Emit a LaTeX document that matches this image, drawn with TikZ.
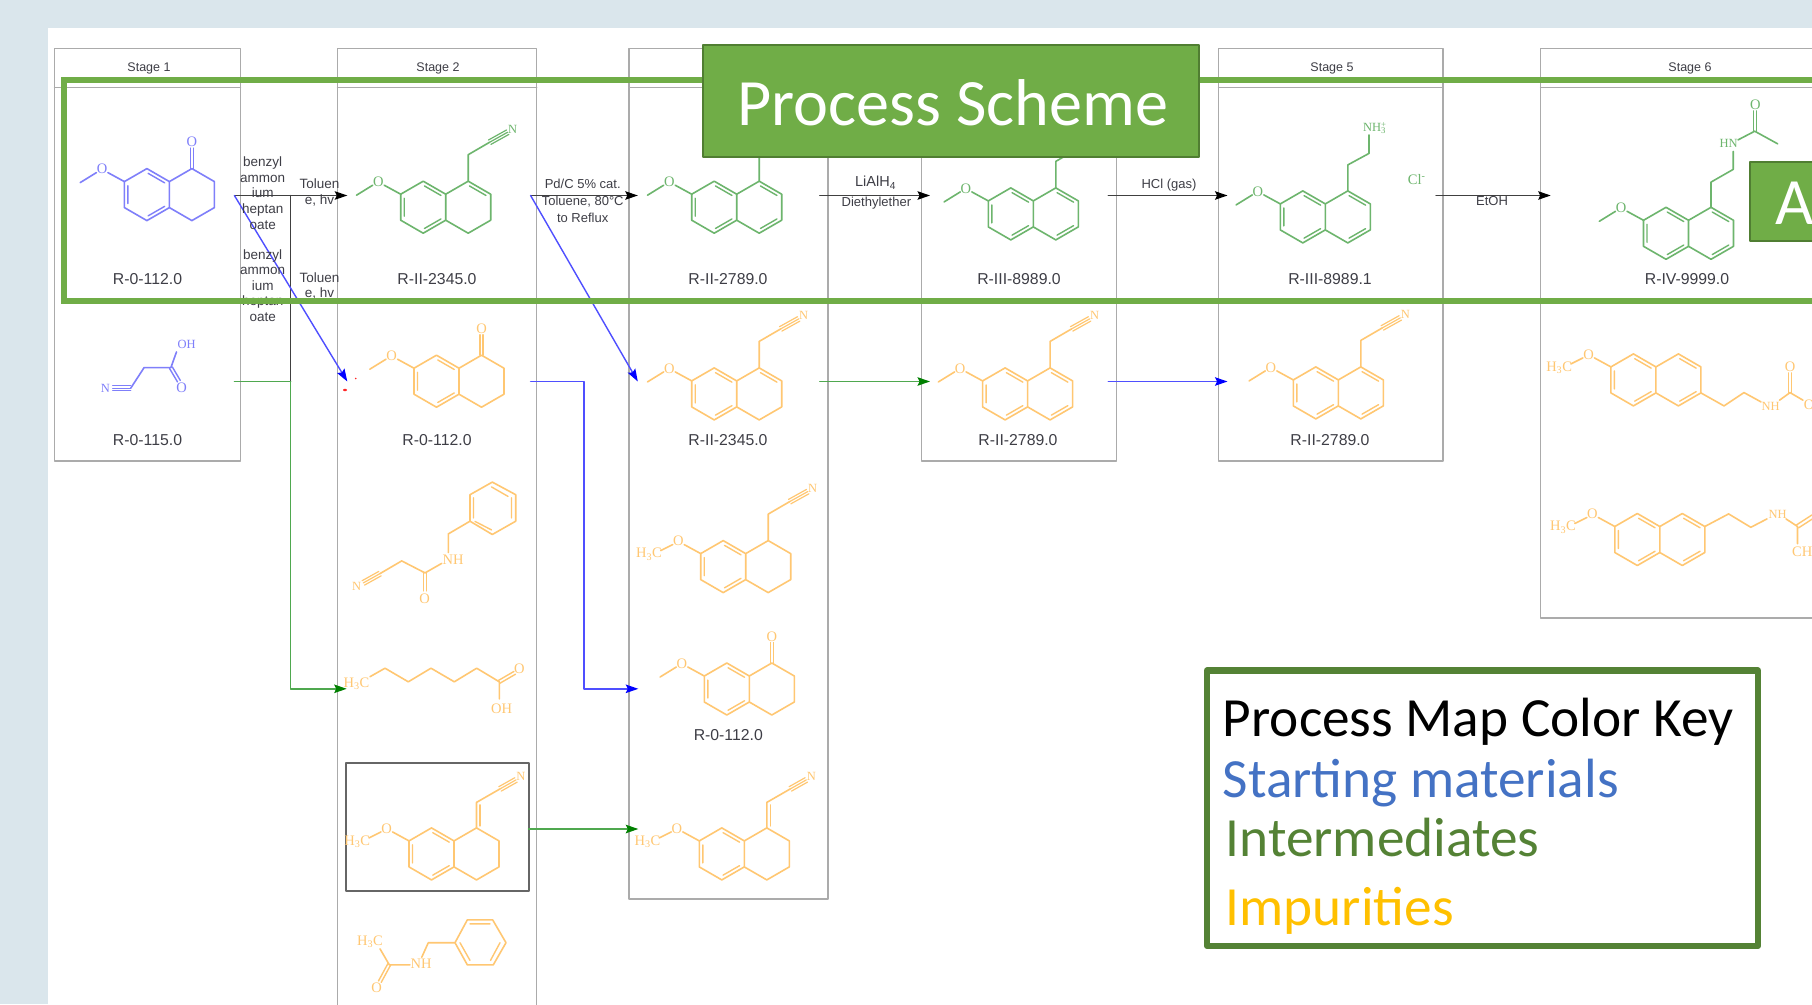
\documentclass[tikz,border=0pt]{standalone}
\usepackage{fontspec}
\setmainfont{Liberation Sans}
\newfontfamily\calfont{Carlito}
\newfontfamily\atomfont{Liberation Serif}
\usetikzlibrary{arrows.meta}
\definecolor{bgblue}{HTML}{DAE6EC}
\definecolor{boxgray}{HTML}{ABABAB}
\definecolor{molblue}{HTML}{7F7FFA}
\definecolor{molgreen}{HTML}{6DB56D}
\definecolor{molorange}{HTML}{FFC772}
\definecolor{pgreen}{HTML}{70AD47}
\definecolor{pgreendark}{HTML}{507E32}
\definecolor{keygreen}{HTML}{548235}
\definecolor{keyblue}{HTML}{4472C4}
\definecolor{keyorange}{HTML}{FFC000}
\definecolor{lineblue}{HTML}{4F4FFF}
\definecolor{linegreen}{HTML}{4FA84F}
\definecolor{textgray}{HTML}{3E3E46}
\tikzset{
  molb/.style={color=molblue},
  molg/.style={color=molgreen},
  molo/.style={color=molorange},
  atom/.style={inner sep=0pt,font=\atomfont\fontsize{14.5}{15}\selectfont},
  smallatom/.style={inner sep=0pt,font=\atomfont\fontsize{12.5}{13}\selectfont},
  stagebox/.style={draw=boxgray,line width=1.5pt,outer sep=0pt,inner sep=0pt,anchor=north west},
  solidbox/.style={fill=pgreen,draw=pgreendark,line width=2pt,outer sep=0pt,inner sep=0pt,anchor=north west},
  stagetext/.style={inner sep=0pt,text=textgray,font=\fontsize{12.5}{14}\selectfont},
  idtext/.style={inner sep=0pt,text=textgray,font=\fontsize{15.8}{18}\selectfont},
  rxtext/.style={inner sep=0pt,align=center,text=textgray,font=\fontsize{13.5}{15.6}\selectfont},
  rxsmall/.style={inner sep=0pt,align=center,text=textgray,font=\fontsize{13}{16.8}\selectfont},
  tipblack/.style={-{Stealth[length=12.5pt,width=8.5pt,inset=2pt,color=black]}},
  conblack/.style={draw=black!75,line width=1.3pt,tipblack},
  conblue/.style={draw=lineblue,line width=1.4pt,-{Stealth[length=12.5pt,width=8.5pt,inset=2pt,color=blue]}},
  congreen/.style={draw=linegreen,line width=1.4pt,-{Stealth[length=12.5pt,width=8.5pt,inset=2pt,color=green!50!black]}},
  keytext/.style={inner sep=0pt,anchor=base west,font=\calfont\fontsize{55.3}{60}\selectfont},
  bigtext/.style={inner sep=0pt,anchor=base west,text=white,font=\calfont\fontsize{66.2}{70}\selectfont},
  bicyc/.pic={
    \draw[line width=1.6pt] (-45,0)--(-22.5,-13)--(0,0)--(22.5,-13)--(45,0)--(45,26)--(22.5,39)--(0,26)--(-22.5,39)--(-45,26)--cycle (0,0)--(0,26);
    \draw[line width=1.4pt] (-41.5,4)--(-41.5,22) (-21.25,-8.25)--(-4.75,1.25) (-21.25,34.25)--(-4.75,24.75);
  },
  renea/.pic={\draw[line width=1.4pt] (23.75,-8.25)--(40.25,1.25);},
  reneb/.pic={\draw[line width=1.4pt] (40.25,24.75)--(23.75,34.25);},
  meo/.pic={
    \draw[line width=1.6pt] (-89.2,1)--(-73,-9) (-61.5,-9)--(-45,0);
    \node[atom] at (-67.4,-12.4) {O};
  },
  hmeo/.pic={
    \draw[line width=1.6pt] (-85,-3)--(-73,-9) (-61.5,-9)--(-45,0);
    \node[atom] at (-67.4,-12.4) {O};
    \node[atom] at (-96.8,0.7) {H\textsubscript{3}C};
  },
  ketone/.pic={
    \draw[line width=1.4pt] (21,-13)--(21,-33.5) (24,-13)--(24,-33.5);
    \node[atom] at (22.5,-39.5) {O};
  },
  cnchain/.pic={
    \draw[line width=1.6pt] (22.5,-13)--(22.5,-39.5)--(44,-52);
    \draw[line width=1.2pt] (44,-52)--(62,-62) (42.8,-54.2)--(60.8,-64.2) (45.2,-49.8)--(63.2,-59.8);
    \node[smallatom] at (67,-65) {N};
  },
  exochain/.pic={
    \draw[line width=1.6pt] (22.5,-13)--(22.5,-38.5)--(46,-52);
    \draw[line width=1.4pt] (26,-15)--(26,-36);
    \draw[line width=1.2pt] (46,-52)--(62,-61) (44.8,-54.2)--(60.8,-63.2) (47.2,-49.8)--(63.2,-58.8);
    \node[smallatom] at (67,-64.5) {N};
  },
  tetralone/.pic={\pic{bicyc};\pic{meo};\pic{ketone};},
  dihydrocn/.pic={\pic{bicyc};\pic{renea};\pic{meo};\pic{cnchain};},
  naphcn/.pic={\pic{bicyc};\pic{renea};\pic{reneb};\pic{meo};\pic{cnchain};}
}
\begin{document}
\begin{tikzpicture}[x=1pt,y=-1pt,line cap=round,line join=round]
\useasboundingbox (0,0) rectangle (1812,1004);
\clip (0,0) rectangle (1812,1004);
\fill[bgblue] (0,0) rectangle (1812,1004);
\fill[white] (47.5,27.7) rectangle (1812,1004);

% stage boxes
\node[stagebox,minimum width=186pt,minimum height=412.7pt] (st1) at (54.5,48.3) {};
\node[stagebox,minimum width=199pt,minimum height=1000pt] (st2) at (337.7,48.3) {};
\node[stagebox,minimum width=199pt,minimum height=850.7pt] (st3) at (628.8,48.3) {};
\node[stagebox,minimum width=195pt,minimum height=412.7pt] (st4) at (921.6,48.3) {};
\node[stagebox,minimum width=224.3pt,minimum height=412.7pt] (st5) at (1218.5,48.3) {};
\node[stagebox,minimum width=400pt,minimum height=569.7pt] (st6) at (1540.7,48.3) {};
\draw[boxgray,line width=1.5pt] (st1.west |- 0,87.3) -- (st1.east |- 0,87.3)
  (st2.west |- 0,87.3) -- (st2.east |- 0,87.3)
  (st3.west |- 0,87.3) -- (st3.east |- 0,87.3)
  (st4.west |- 0,87.3) -- (st4.east |- 0,87.3)
  (st5.west |- 0,87.3) -- (st5.east |- 0,87.3)
  (st6.west |- 0,87.3) -- (st6.east |- 0,87.3);
\node[stagetext] (s1t) at (149,68.7) {Stage 1};
\node[stagetext] (s2t) at (438,68.7) {Stage 2};
\node[stagetext] (s5t) at (1332,68.7) {Stage 5};
\node[stagetext] (s6t) at (1690,68.7) {Stage 6};

% highlighted black box
\node[draw=black!60,line width=2pt,outer sep=0pt,inner sep=0pt,minimum width=183pt,minimum height=128pt,anchor=north west] (hbox) at (345.5,763.2) {};

% connector ends
\coordinate (a1s) at (234.4,195.5);
\coordinate (a1e) at (347.3,195.5);
\coordinate (a1b) at (347.3,381.5);
\coordinate (a2s) at (530.6,195.5);
\coordinate (a2e) at (637.8,195.5);
\coordinate (a2b) at (637.8,381.5);
\coordinate (a3s) at (819.8,195.5);
\coordinate (a3e) at (930,195.5);
\coordinate (a4s) at (1108.3,195.5);
\coordinate (a4e) at (1227.5,195.5);
\coordinate (a5s) at (1435.9,195.5);
\coordinate (a5e) at (1550.7,195.5);
\coordinate (bend) at (290.7,381.5);
\coordinate (g1s) at (234.4,381.5);
\coordinate (g1e) at (346.7,688.8);
\coordinate (b2s) at (530.6,381.5);
\coordinate (b2e) at (638.3,688.8);
\coordinate (b2m) at (584,381.5);
\coordinate (g3s) at (819.8,381.5);
\coordinate (g3e) at (930,381.5);
\coordinate (b4s) at (1108.3,381.5);
\coordinate (b4e) at (1227.5,381.5);
\coordinate (g5e) at (638.3,829);
\coordinate (g5s) at (hbox.east |- g5e);
\coordinate (bendtop) at (bend |- a1s);

% connectors
\draw[conblack] (a1s) -- (a1e);
\draw[black!75,line width=1.3pt] (bendtop) -- (bend);
\draw[conblue] (a1s) -- (a1b);
\draw[conblack] (a2s) -- (a2e);
\draw[conblue] (a2s) -- (a2b);
\draw[conblack] (a3s) -- (a3e);
\draw[conblack] (a4s) -- (a4e);
\draw[conblack] (a5s) -- (a5e);
\draw[linegreen,line width=1.4pt] (g1s) -- (bend);
\draw[congreen] (bend) |- (g1e);
\draw[conblue] (b2s) -- (b2m) |- (b2e);
\draw[congreen] (g3s) -- (g3e);
\draw[conblue] (b4s) -- (b4e);
\draw[congreen] (g5s) -- (g5e);
\fill[red!85] (355.7,378.5) circle (0.9pt) (345,390) ellipse (2pt and 1.2pt);

% reaction conditions
\node[rxtext] (r1) at (262.7,193) {benzyl\\ammon\\ium\\heptan\\oate};
\node[rxtext] (r2) at (262.7,285.5) {benzyl\\ammon\\ium\\heptan\\oate};
\node[rxtext] (r3) at (319.4,192.5) {Toluen\\e, hv};
\node[rxtext] (r4) at (319.4,286) {Toluen\\e, hv};
\node[rxsmall] (r5) at (582.7,200.8) {Pd/C 5\% cat.\\Toluene, 80°C\\to Reflux};
\node[inner sep=0pt,text=textgray,font=\fontsize{14.5}{16}\selectfont] (r6) at (875.5,182.7) {LiAlH\textsubscript{4}};
\node[inner sep=0pt,text=textgray,font=\fontsize{13}{15}\selectfont] (r7) at (876.4,202.7) {Diethylether};
\node[inner sep=0pt,text=textgray,font=\fontsize{13}{15}\selectfont] (r8) at (1169,185) {HCl (gas)};
\node[inner sep=0pt,text=textgray,font=\fontsize{13}{15}\selectfont] (r9) at (1492,201) {EtOH};

\begin{scope}[yshift=-0.9pt]
% stage 1
\pic[molb] at (169.4,180.7) {tetralone};
\begin{scope}[molb]
  \draw[line width=1.2pt] (112.7,387.3)--(130.7,387.3) (112.7,384.8)--(130.7,384.8) (112.7,389.8)--(130.7,389.8);
  \draw[line width=1.6pt] (130.7,387.3)--(144.1,366.7)--(170.9,366.7)--(176.5,351);
  \draw[line width=1.4pt] (169.5,367.5)--(177.5,381) (172.3,366)--(180.3,379.5);
  \node[smallatom] (mn1) at (105.5,387.3) {N};
  \node[atom] (mo1) at (181.6,387.3) {O};
  \node[smallatom] (moh1) at (186.6,344) {OH};
\end{scope}
\node[idtext] (id11) at (147.5,278.3) {R-0-112.0};
\node[idtext] (id12) at (147.5,439.3) {R-0-115.0};

% stage 2
\pic[molg] at (445.7,193.3) {dihydrocn};
\node[idtext] (id21) at (437,278.3) {R-II-2345.0};
\pic[molo] at (459,367.3) {tetralone};
\node[idtext] (id22) at (437,439.3) {R-0-112.0};
\begin{scope}[molo]
  % benzyl cyanoacetamide
  \draw[line width=1.2pt] (363.3,582)--(380,572.7) (362.1,579.8)--(378.8,570.5) (364.5,584.2)--(381.2,574.9);
  \draw[line width=1.6pt] (380,572.7)--(401.7,560)--(425,572)--(441.7,562.5);
  \draw[line width=1.4pt] (423.5,572)--(423.5,590) (426.5,572)--(426.5,590);
  \draw[line width=1.6pt] (448.3,551.6)--(448.3,533)--(470,520.3)--(470,493.8)--(492.3,481.2)--(515.7,493.8)--(515.7,520.3)--(492.3,533.6)--(470,520.3);
  \draw[line width=1.4pt] (473.5,497)--(473.5,517) (491.5,486)--(508,495.5) (511.5,497)--(511.5,517) (491.5,529)--(475,520.5);
  \node[smallatom] (mn2) at (356.7,585.6) {N};
  \node[atom] (mo2) at (424.7,598.2) {O};
  \node[atom] (mnh2) at (453,559) {NH};
  % heptanoic acid
  \draw[line width=1.6pt] (370,675.8)--(385,667.3)--(408.3,680.9)--(431,667.3)--(454.3,680.9)--(476.7,667.3)--(499.3,680.9)--(499.3,698);
  \draw[line width=1.4pt] (498.5,679.5)--(514,670.5) (500,682.3)--(515.5,673.3);
  \node[atom] (mch3) at (356.5,682.6) {H\textsubscript{3}C};
  \node[atom] (mo3) at (519.3,668) {O};
  \node[atom] (moh3) at (501.7,707.4) {OH};
  % benzyl acetamide
  \draw[line width=1.6pt] (380,947.9)--(389.3,963.9)--(410,963.9) (421.7,956.4)--(428.3,941.8)--(455,941.8)--(467.3,919)--(492.7,919)--(506,941.8)--(493.3,963.9)--(467.3,963.9)--(455,941.8);
  \draw[line width=1.4pt] (388,962.5)--(378.5,980) (390.7,964)--(381.2,981.5);
  \draw[line width=1.4pt] (470,923)--(490,923) (460,941.8)--(470,959.5) (500,941.8)--(490.5,959.5);
  \node[atom] (mch4) at (370,941) {H\textsubscript{3}C};
  \node[atom] (mo4) at (376.7,986.5) {O};
  \node[atom] (mnh4) at (421,963.2) {NH};
\end{scope}
\pic[molo] at (454,840) {bicyc};
\pic[molo] at (454,840) {hmeo};
\pic[molo] at (454,840) {exochain};

% stage 3
\pic[molg] at (736.7,193.3) {naphcn};
\node[idtext] (id31) at (728,278.3) {R-II-2789.0};
\pic[molo] at (736.7,380) {dihydrocn};
\node[idtext] (id32) at (728,439.3) {R-II-2345.0};
\pic[molo] at (745.7,552.7) {bicyc};
\pic[molo] at (745.7,552.7) {hmeo};
\pic[molo] at (745.7,552.7) {cnchain};
\pic[molo] at (749.3,675.1) {tetralone};
\node[idtext] (id33) at (728.3,734.3) {R-0-112.0};
\pic[molo] at (744.3,840) {bicyc};
\pic[molo] at (744.3,840) {hmeo};
\pic[molo] at (744.3,840) {exochain};

% stage 4
\pic[molg] at (1033.3,200) {naphcn};
\node[idtext] (id41) at (1019,278.3) {R-III-8989.0};
\pic[molo] at (1027.6,380) {naphcn};
\node[idtext] (id42) at (1018,439.3) {R-II-2789.0};

% stage 5
\pic[molg] at (1325.3,203) {bicyc};
\pic[molg] at (1325.3,203) {renea};
\pic[molg] at (1325.3,203) {reneb};
\pic[molg] at (1325.3,203) {meo};
\begin{scope}[molg]
  \draw[line width=1.6pt] (1347.8,190)--(1347.8,164)--(1369,152.5)--(1369,134);
  \node[smallatom] (mnh3) at (1374.6,126.8) {NH\rlap{\textsuperscript{+}}\textsubscript{3}};
  \node[atom] (mcl) at (1416.7,179) {Cl\textsuperscript{-}};
\end{scope}
\node[idtext] (id51) at (1330,278.3) {R-III-8989.1};
\pic[molo] at (1338.3,379) {naphcn};
\node[idtext] (id52) at (1330,439.5) {R-II-2789.0};

% stage 6
\pic[molg] at (1688.5,219.4) {bicyc};
\pic[molg] at (1688.5,219.4) {renea};
\pic[molg] at (1688.5,219.4) {reneb};
\pic[molg] at (1688.5,219.4) {meo};
\begin{scope}[molg]
  \draw[line width=1.6pt] (1711,206.4)--(1711,181.2)--(1733.2,168.5)--(1733.2,150.5) (1738,139)--(1754.7,130.3)--(1777.6,142.9);
  \draw[line width=1.4pt] (1753.2,130.3)--(1753.2,110) (1756.2,130.3)--(1756.2,110);
  \node[smallatom] (mhn) at (1728.6,142.9) {HN};
  \node[atom] (mo6) at (1755.4,103.9) {O};
\end{scope}
\node[idtext] (id61) at (1687,278.3) {R-IV-9999.0};
\pic[molo] at (1655.9,366) {bicyc};
\pic[molo] at (1655.9,366) {renea};
\pic[molo] at (1655.9,366) {reneb};
\pic[molo] at (1655.9,366) {hmeo};
\pic[molo] at (1659.8,525.6) {bicyc};
\pic[molo] at (1659.8,525.6) {renea};
\pic[molo] at (1659.8,525.6) {reneb};
\pic[molo] at (1659.8,525.6) {hmeo};
\begin{scope}[molo]
  \draw[line width=1.6pt] (1700.9,392)--(1724,405)--(1744,391.7)--(1761,401) (1779.5,399.3)--(1790,391.7)--(1803,399.3);
  \draw[line width=1.4pt] (1788.5,391.7)--(1788.5,372) (1791.5,391.7)--(1791.5,372);
  \node[smallatom] (mnh6) at (1770.7,405.8) {NH};
  \node[atom] (mo61) at (1790,366) {O};
  \node[atom] (mo62) at (1809,404) {O};
  \draw[line width=1.6pt] (1704.8,525.6)--(1728.6,513)--(1750.8,526.4)--(1767,518) (1786,518)--(1797.5,525.6)--(1797.5,542.8);
  \draw[line width=1.4pt] (1796.5,524)--(1812,514) (1798.5,527)--(1814,517);
  \node[smallatom] (mnh7) at (1777.6,513) {NH};
  \node[atom,anchor=west] (mch6) at (1792,552) {CH\textsubscript{3}};
\end{scope}
\end{scope}

% process scheme frame and labels
\draw[pgreen,line width=6pt,line cap=butt,line join=miter] (1830,80.3) -- (64,80.3) -- (64,300.7) -- (1830,300.7);
\node[solidbox,minimum width=496pt,minimum height=111.5pt] (pbox) at (703.3,45.3) {};
\node[bigtext] (ptext) at (737.3,125) {Process Scheme};
\node[solidbox,minimum width=120pt,minimum height=79pt] (abox) at (1750,161.5) {};
\node[bigtext] (atext) at (1775,224) {A};

% key
\node[fill=white,draw=keygreen,line width=6.2pt,outer sep=0pt,inner sep=0pt,minimum width=551pt,minimum height=275.5pt,anchor=north west] (key) at (1207,670.5) {};
\node[keytext,text=black] (k1) at (1222.7,736) {Process Map Color Key};
\node[keytext,text=keyblue] (k2) at (1222.7,797) {Starting materials};
\node[keytext,text=keygreen] (k3) at (1225.5,856) {Intermediates};
\node[keytext,text=keyorange] (k4) at (1225.5,925.3) {Impurities};
\end{tikzpicture}
\end{document}
